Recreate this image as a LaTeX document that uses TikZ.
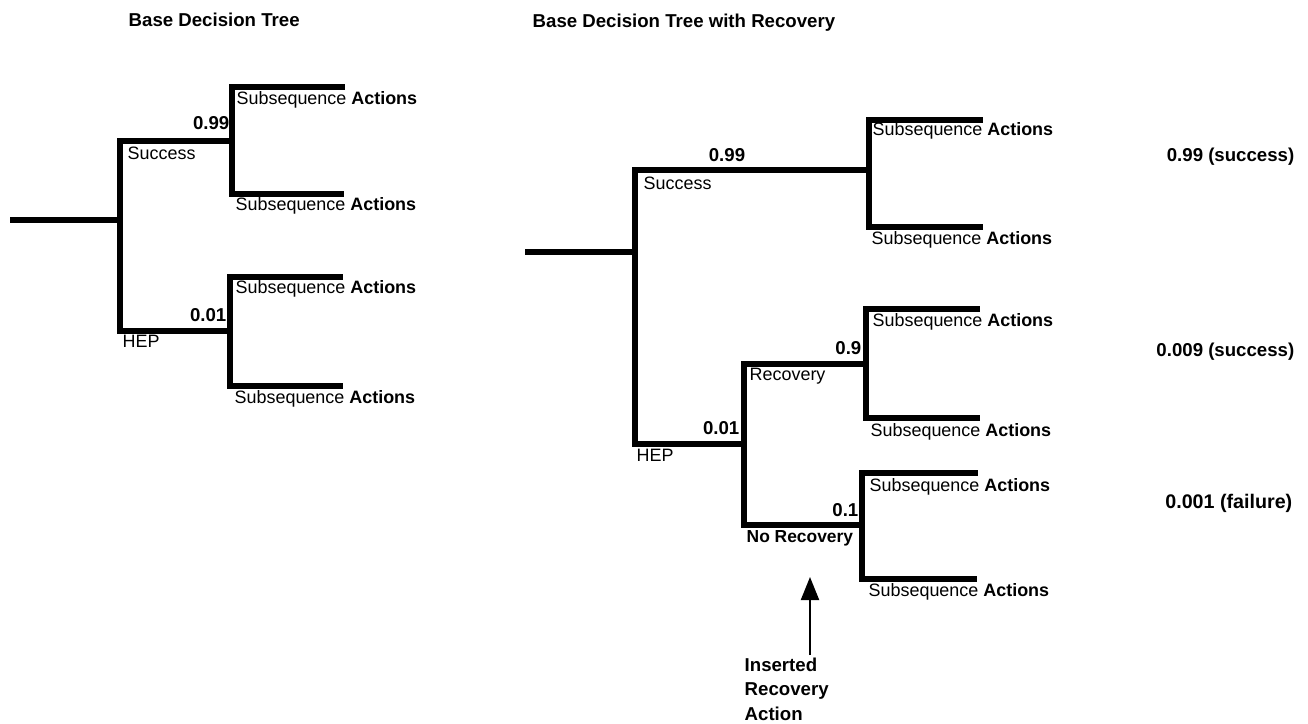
\documentclass[tikz,border=0pt]{standalone}
\usepackage{fontspec}
\setmainfont{Liberation Sans}
\usetikzlibrary{arrows.meta}
\begin{document}
\begin{tikzpicture}[x=0.01cm,y=-0.01cm,
  branch/.style={line width=1.45pt,line join=miter},
  lbl/.style={inner sep=0pt,font=\fontsize{5.1}{6}\selectfont},
  blbl/.style={inner sep=0pt,font=\fontsize{5.3}{6}\selectfont\bfseries},
  subact/.style={inner sep=0pt,anchor=west,font=\fontsize{5.1}{6}\selectfont},
  ttl/.style={inner sep=0pt,anchor=west,font=\fontsize{5.3}{6}\selectfont\bfseries},
  pointer/.style={line width=0.6pt,-{Triangle[width=0.18cm,length=0.23cm]}}]
\useasboundingbox (0,0) rectangle (1308,723);
\newcommand{\subtxt}{Subsequence \textbf{Actions}}

% ---------- Left tree ----------
\node[ttl] (t1) at (128,20) {Base Decision Tree};
\coordinate (L0) at (10,220);
\coordinate (L1) at (120,220);
\coordinate (L2) at (232,141);
\coordinate (L3) at (230,331);
\coordinate (L2a) at (345,87);
\coordinate (L2b) at (344,194);
\coordinate (L3a) at (343,277);
\coordinate (L3b) at (343,386);
\draw[branch] (L0) -- (L1);
\draw[branch] (L1) |- (L2);
\draw[branch] (L1) |- (L3);
\draw[branch] (L2) |- (L2a);
\draw[branch] (L2) |- (L2b);
\draw[branch] (L3) |- (L3a);
\draw[branch] (L3) |- (L3b);
\node[lbl,anchor=west] (ls) at (127,153) {Success};
\node[blbl,anchor=east] (lp1) at (230,123) {0.99};
\node[lbl,anchor=west] (lh) at (122,341) {HEP};
\node[blbl,anchor=east] (lp2) at (227,315) {0.01};
\node[subact] (la1) at (236,100) {\subtxt};
\node[subact] (la2) at (235,206) {\subtxt};
\node[subact] (la3) at (235,289) {\subtxt};
\node[subact] (la4) at (234,399) {\subtxt};

% ---------- Right tree ----------
\node[ttl] (t2) at (532,23) {Base Decision Tree with Recovery};
\coordinate (R0) at (525,252);
\coordinate (R1) at (635,252);
\coordinate (R2) at (869,170);
\coordinate (R3) at (744,444);
\coordinate (R4) at (866,364);
\coordinate (R5) at (862,525);
\coordinate (R2a) at (983,120);
\coordinate (R2b) at (983,227);
\coordinate (R4a) at (980,309);
\coordinate (R4b) at (980,418);
\coordinate (R5a) at (978,473);
\coordinate (R5b) at (977,579);
\draw[branch] (R0) -- (R1);
\draw[branch] (R1) |- (R2);
\draw[branch] (R1) |- (R3);
\draw[branch] (R2) |- (R2a);
\draw[branch] (R2) |- (R2b);
\draw[branch] (R3) |- (R4);
\draw[branch] (R3) |- (R5);
\draw[branch] (R4) |- (R4a);
\draw[branch] (R4) |- (R4b);
\draw[branch] (R5) |- (R5a);
\draw[branch] (R5) |- (R5b);
\node[lbl,anchor=west] (rs) at (643,183) {Success};
\node[blbl] (rp1) at (727,155) {0.99};
\node[lbl,anchor=west] (rh) at (636,455) {HEP};
\node[blbl,anchor=east] (rp2) at (740,428) {0.01};
\node[lbl,anchor=west] (rr) at (749,376) {Recovery};
\node[blbl,anchor=east] (rp3) at (862,348) {0.9};
\node[inner sep=0pt,anchor=west,font=\fontsize{4.95}{6}\selectfont\bfseries] (rn) at (746,538) {No Recovery};
\node[blbl,anchor=east] (rp4) at (859,510) {0.1};
\node[subact] (ra1) at (872,131) {\subtxt};
\node[subact] (ra2) at (871,240) {\subtxt};
\node[subact] (ra3) at (872,322) {\subtxt};
\node[subact] (ra4) at (870,432) {\subtxt};
\node[subact] (ra5) at (869,487) {\subtxt};
\node[subact] (ra6) at (868,592) {\subtxt};

% outcomes
\node[blbl,anchor=east] (o1) at (1295,157) {0.99 (success)};
\node[blbl,anchor=east] (o2) at (1295,352) {0.009 (success)};
\node[blbl,anchor=east,font=\fontsize{5.6}{6}\selectfont\bfseries] (o3) at (1293,503) {0.001 (failure)};

% inserted recovery action
\node[inner sep=0pt,anchor=north west,align=left,font=\fontsize{5.3}{7.0}\selectfont\bfseries] (ins) at (744,657) {Inserted\\Recovery\\Action};
\coordinate (atail) at (810,655);
\coordinate (atip) at (810,577);
\draw[pointer] (atail) -- (atip);
\end{tikzpicture}
\end{document}
